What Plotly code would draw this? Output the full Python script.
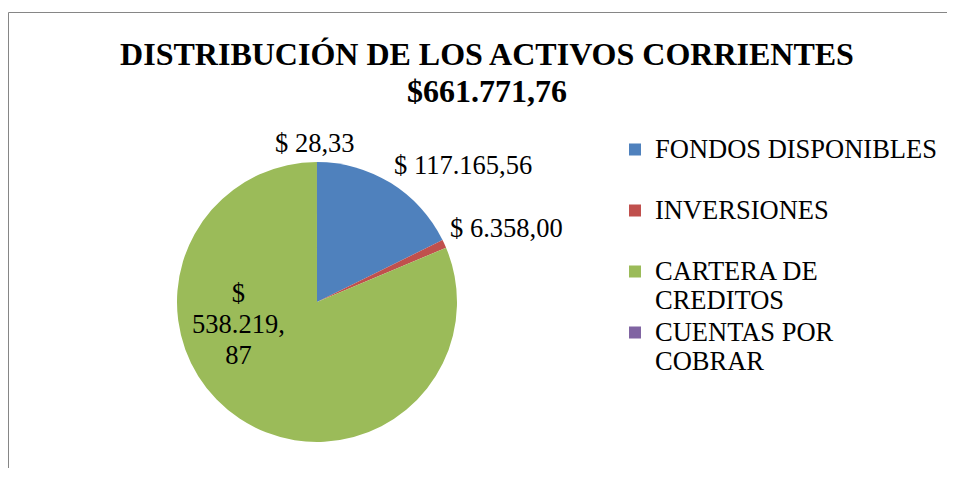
import plotly.graph_objects as go

categories = ["FONDOS DISPONIBLES", "INVERSIONES", "CARTERA DE CREDITOS", "CUENTAS POR COBRAR"]
legend_lines = [["FONDOS DISPONIBLES", " "], ["INVERSIONES", " "], ["CARTERA DE", "CREDITOS"], ["CUENTAS POR", "COBRAR"]]
values = [117165.56, 6358.00, 538219.87, 28.33]
colors = ["#4F81BD", "#C0504D", "#9BBB59", "#8064A2"]

OX, OY = 8, 8  # page offset of the figure (default body margin)
W, H = 955 - 2 * OX, 460
SERIF = "Liberation Serif, Times New Roman, serif"


def px(x, y):
    return (x - OX) / W, 1 - (y - OY) / H


def big(t, size):
    return '<span style="font-size:%spx">%s</span>' % (size, t)


def fmt(v):
    s = f"{v:,.2f}"
    return s.replace(",", "#").replace(".", ",").replace("#", ".")


total = sum(values)
legend_labels = ["<br>".join(big(l, 26.5) for l in ls) for ls in legend_lines]

x0, y_top = px(177, 162)
x1, y_bot = px(457, 442)
fig = go.Figure(go.Pie(
    labels=legend_labels,
    values=values,
    sort=False,
    direction="clockwise",
    rotation=0,
    marker=dict(colors=colors, line=dict(width=0)),
    textinfo="none",
    hoverinfo="value",
    domain=dict(x=[x0, x1], y=[y_bot, y_top]),
))

# data labels
lbl_font = dict(family=SERIF, size=24, color="#000000")
green = fmt(values[2]).split(",")
label_specs = [
    (big("$ " + fmt(values[0]), 26.5), 463, 165),
    (big("$ " + fmt(values[1]), 26.5), 507, 228),
    ("<br>".join(big(t, 26.5) for t in ["$", green[0] + ",", green[1]]), 238, 324),
    (big("$ " + fmt(values[3]), 26.5), 315, 143),
]
for txt, lx, ly in label_specs:
    ax, ay = px(lx, ly)
    fig.add_annotation(text=txt, x=ax, y=ay, xref="paper", yref="paper",
                       showarrow=False, font=lbl_font, xanchor="center", yanchor="middle",
                       align="center")

title_txt = "<b>" + big("DISTRIBUCIÓN DE LOS ACTIVOS CORRIENTES", 32) + "<br>" + big("$" + fmt(total), 32) + "</b>"
tx, ty = px(487, 65)
lgx, lgy = px(615, 128.5)
bx0, by1 = px(8.5, 12.5)

fig.update_layout(
    width=W, height=H,
    margin=dict(l=0, r=0, t=0, b=0),
    paper_bgcolor="white",
    plot_bgcolor="white",
    font=dict(family=SERIF, color="#000000"),
    title=dict(
        text=title_txt,
        x=tx, xanchor="center",
        y=ty, yanchor="top", yref="container",
        font=dict(family=SERIF, size=28.5, color="#000000"),
    ),
    showlegend=True,
    legend=dict(
        x=lgx, xanchor="left",
        y=lgy, yanchor="top",
        valign="top",
        font=dict(family=SERIF, size=22.3, color="#000000"),
        bgcolor="rgba(0,0,0,0)",
        traceorder="normal",
    ),
    shapes=[
        dict(type="line", xref="paper", yref="paper",
             x0=bx0, x1=1.0, y0=by1, y1=by1,
             line=dict(color="#868686", width=1), layer="below"),
        dict(type="line", xref="paper", yref="paper",
             x0=bx0, x1=bx0, y0=0.0, y1=by1,
             line=dict(color="#868686", width=1), layer="below"),
    ],
)

fig.write_html("out.html")
